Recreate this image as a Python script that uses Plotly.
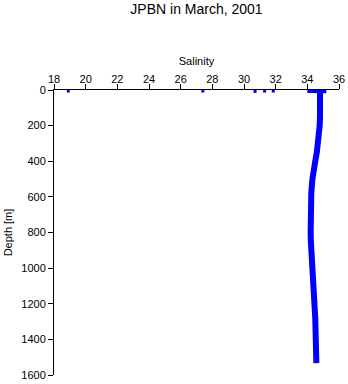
import plotly.graph_objects as go

# Main CTD profile (depth in m, salinity)
depth = [10, 50, 100, 150, 200, 250, 300, 350, 400, 450, 500, 580, 650, 735, 800, 845,
         920, 1000, 1060, 1130, 1200, 1280, 1350, 1420, 1480, 1533]
salinity = [34.8, 34.82, 34.82, 34.8, 34.78, 34.74, 34.68, 34.6, 34.5, 34.4, 34.32, 34.25,
            34.21, 34.2, 34.21, 34.22, 34.28, 34.34, 34.38, 34.44, 34.47, 34.5, 34.52, 34.54,
            34.55, 34.57]

# Near-surface mixed points
surf_sal = [34.0, 34.3, 34.6, 34.9, 35.2]
surf_depth = [6, 6, 5, 6, 7]

# Isolated low-salinity surface readings
spike_sal = [18.9, 27.4, 30.7, 31.3, 31.85]
spike_depth = [6, 6, 8, 6, 6]

x_ticks = [18, 20, 22, 24, 26, 28, 30, 32, 34, 36]
y_ticks = [0, 200, 400, 600, 800, 1000, 1200, 1400, 1600]

FONT = "Liberation Sans"

fig = go.Figure()
fig.add_trace(go.Scatter(x=salinity, y=depth, mode="lines",
                         line=dict(color="#0000ff", width=6), showlegend=False,
                         cliponaxis=False))
fig.add_trace(go.Scatter(x=surf_sal, y=surf_depth, mode="lines",
                         line=dict(color="#0000ff", width=4), showlegend=False,
                         cliponaxis=False))
fig.add_trace(go.Scatter(x=spike_sal, y=spike_depth, mode="markers",
                         marker=dict(symbol="square", size=3, color="#0000ff"),
                         showlegend=False, cliponaxis=False))

fig.update_layout(
    width=348, height=384,
    margin=dict(l=54, r=9, t=90, b=9, autoexpand=False),
    paper_bgcolor="white", plot_bgcolor="white",
    font=dict(family=FONT, size=11, color="black"),
    title=dict(text="JPBN in March, 2001", x=0.5, xref="paper", xanchor="center",
               y=1 - 9 / 384, yanchor="middle", font=dict(size=14, family=FONT)),
    xaxis=dict(side="top", range=[18, 36], tickvals=x_ticks, ticks="outside", ticklen=5,
               tickcolor="black", showline=True, linecolor="black", linewidth=1,
               showgrid=False, zeroline=False, automargin=False, ticklabelstandoff=-3,
               title=dict(text="Salinity", standoff=4, font=dict(size=11))),
    yaxis=dict(range=[1600, 0], tickvals=y_ticks, ticks="outside", ticklen=5,
               tickcolor="black", showline=True, linecolor="black", linewidth=1,
               showgrid=False, zeroline=False, automargin=False,
               title=dict(text="Depth [m]", standoff=6, font=dict(size=11))),
)

fig.write_html("out.html")
